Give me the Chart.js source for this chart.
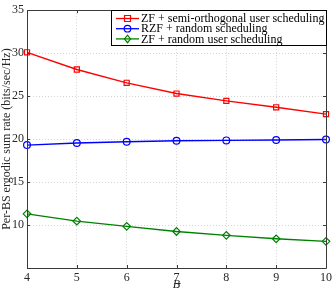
<!DOCTYPE html>
<html>
<head>
<meta charset="utf-8">
<script src="https://cdn.jsdelivr.net/npm/chart.js"></script>
<style>
  html, body { margin: 0; padding: 0; background: #fff; }
  #wrap { width: 335px; height: 292px; position: relative; }
</style>
</head>
<body>
<div id="wrap"><canvas id="rateChart"></canvas></div>
<script>
// values
const bValues = [4, 5, 6, 7, 8, 9, 10];
const zfSemiOrth = [30.1, 28.1, 26.55, 25.3, 24.45, 23.7, 22.9];
const rzfRandom = [19.3, 19.55, 19.7, 19.8, 19.85, 19.9, 19.95];
const zfRandom = [11.3, 10.45, 9.85, 9.25, 8.8, 8.4, 8.1];
const seriesLabels = [
    'ZF + semi-orthogonal user scheduling',
    'RZF + random scheduling',
    'ZF + random user scheduling'
];
const yTicks = [5, 10, 15, 20, 25, 30, 35];

const serif = '"Liberation Serif", "DejaVu Serif", serif';

function toPoints(ys) {
    return bValues.map((b, i) => ({ x: b, y: ys[i] }));
}

// box around the plot, inward tick marks, MATLAB-style legend, bar over B
const boxPlugin = {
    id: 'boxPlugin',
    afterDraw(chart) {
        const { ctx, chartArea: a, scales } = chart;
        ctx.save();
        ctx.strokeStyle = '#3a3a3a';
        ctx.lineWidth = 1;
        ctx.beginPath();
        ctx.rect(Math.round(a.left) + 0.5, Math.round(a.top) + 0.5,
            Math.round(a.right - a.left), Math.round(a.bottom - a.top));
        ctx.stroke();
        // inward ticks
        ctx.beginPath();
        bValues.forEach(b => {
            const x = Math.round(scales.x.getPixelForValue(b)) + 0.5;
            ctx.moveTo(x, a.bottom); ctx.lineTo(x, a.bottom - 3);
            ctx.moveTo(x, a.top); ctx.lineTo(x, a.top + 3);
        });
        yTicks.forEach(v => {
            const y = Math.round(scales.y.getPixelForValue(v)) + 0.5;
            ctx.moveTo(a.left, y); ctx.lineTo(a.left + 3, y);
            ctx.moveTo(a.right, y); ctx.lineTo(a.right - 3, y);
        });
        ctx.stroke();

        // bar of the x-axis symbol
        const cx = (a.left + a.right) / 2;
        ctx.strokeStyle = '#262626';
        ctx.beginPath();
        ctx.moveTo(cx - 2, 283.5); ctx.lineTo(cx + 4, 283.5);
        ctx.stroke();

        // legend
        const lx = 111, ly = Math.round(a.top) + 0.5, lw = Math.round(a.right) - lx, lh = 35;
        ctx.fillStyle = '#fff';
        ctx.fillRect(lx, ly, lw, lh);
        ctx.strokeStyle = '#000';
        ctx.strokeRect(lx + 0.5, ly, lw, lh);
        ctx.font = '12px ' + serif;
        ctx.textBaseline = 'middle';
        chart.data.datasets.forEach((ds, i) => {
            const y = ly + 8 + i * 10.2;
            ctx.strokeStyle = ds.borderColor;
            ctx.lineWidth = 1.3;
            ctx.beginPath();
            ctx.moveTo(lx + 5, y); ctx.lineTo(lx + 28, y);
            ctx.stroke();
            drawMarker(ctx, ds.pointStyle, lx + 16.5, y, ds.borderColor);
            ctx.fillStyle = '#000';
            ctx.fillText(ds.label, lx + 30, y + 0.5);
        });
        ctx.restore();
    }
};

function drawMarker(ctx, style, x, y, color) {
    ctx.strokeStyle = color;
    ctx.lineWidth = 1.2;
    ctx.beginPath();
    if (style === 'rect') {
        ctx.rect(x - 3, y - 3, 6, 6);
    } else if (style === 'circle') {
        ctx.arc(x, y, 3.3, 0, Math.PI * 2);
    } else {
        ctx.moveTo(x, y - 3.8); ctx.lineTo(x + 3, y); ctx.lineTo(x, y + 3.8); ctx.lineTo(x - 3, y);
        ctx.closePath();
    }
    ctx.stroke();
}

function makeDataset(label, ys, color, style, radius) {
    return {
        label: label,
        data: toPoints(ys),
        borderColor: color,
        backgroundColor: 'transparent',
        pointBackgroundColor: 'transparent',
        pointBorderColor: color,
        pointBorderWidth: 1.2,
        pointStyle: style,
        pointRadius: radius,
        borderWidth: 1.4,
        tension: 0,
        clip: false
    };
}

const ctx = document.getElementById('rateChart').getContext('2d');
new Chart(ctx, {
    type: 'line',
    data: {
        datasets: [
            makeDataset(seriesLabels[0], zfSemiOrth, '#ff0000', 'rect', 3.6),
            makeDataset(seriesLabels[1], rzfRandom, '#0000ff', 'circle', 3.4),
            makeDataset(seriesLabels[2], zfRandom, '#008000', 'rectRot', 3.8)
        ]
    },
    options: {
        responsive: true,
        maintainAspectRatio: false,
        animation: false,
        devicePixelRatio: 1,
        layout: { padding: { top: 5, right: 6, left: 0, bottom: 0 } },
        plugins: {
            legend: { display: false },
            tooltip: { enabled: false }
        },
        scales: {
            x: {
                type: 'linear',
                min: 4,
                max: 10,
                afterBuildTicks: axis => { axis.ticks = bValues.map(v => ({ value: v })); },
                afterFit: axis => { axis.height = 24; },
                grid: { color: '#d4d4d4', drawTicks: false },
                border: { display: false, dash: [1, 2] },
                ticks: { color: '#262626', font: { family: serif, size: 12 }, padding: 3, maxRotation: 0 },
                title: { display: true, text: 'B', color: '#262626', font: { family: serif, size: 12, style: 'italic' }, padding: { top: 2, bottom: 0 } }
            },
            y: {
                min: 5,
                max: 35,
                afterBuildTicks: axis => { axis.ticks = yTicks.map(v => ({ value: v })); },
                afterFit: axis => { axis.width = 27; },
                grid: { color: '#d4d4d4', drawTicks: false },
                border: { display: false, dash: [1, 2] },
                ticks: {
                    color: '#262626',
                    font: { family: serif, size: 12 },
                    padding: 3,
                    callback: v => (v === 5 ? '' : v)
                },
                title: { display: true, text: 'Per-BS ergodic sum rate (bits/sec/Hz)', color: '#262626', font: { family: serif, size: 12 }, padding: { top: 0, bottom: 0 } }
            }
        }
    },
    plugins: [boxPlugin]
});
</script>
</body>
</html>
